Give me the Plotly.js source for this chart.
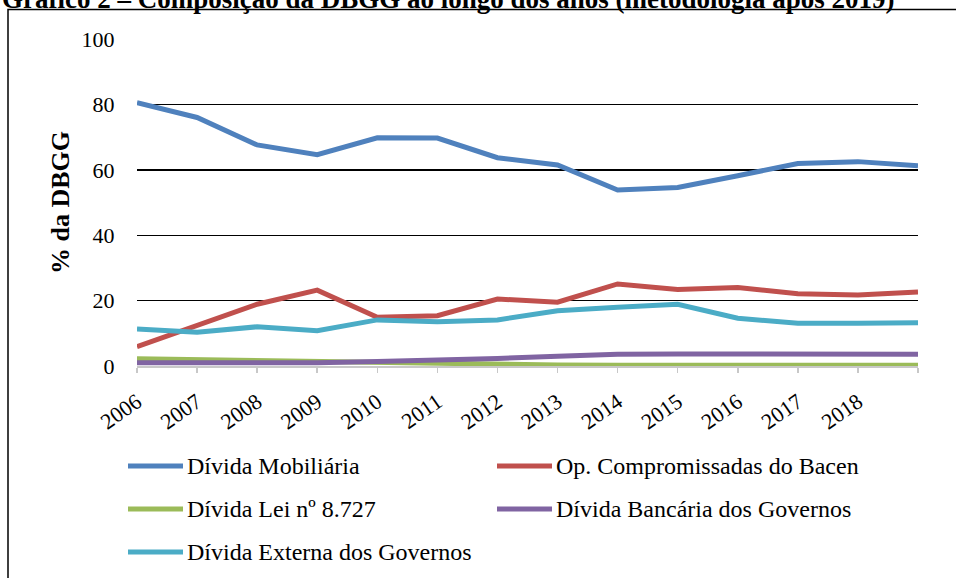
<!DOCTYPE html>
<html><head><meta charset="utf-8">
<script src="https://cdn.plot.ly/plotly-3.0.1.min.js"></script>
<style>html,body{margin:0;padding:0;background:#fff}#chart{width:956px;height:578px}</style>
</head><body><div id="chart"></div><script>
const years = ['2006','2007','2008','2009','2010','2011','2012','2013','2014','2015','2016','2017','2018','2019'];
const tickLabels = ['2006','2007','2008','2009','2010','2011','2012','2013','2014','2015','2016','2017','2018',''];
const mobiliaria = [80.5,76.0,67.6,64.6,69.8,69.7,63.7,61.5,53.8,54.6,58.2,61.9,62.5,61.2];
const compromissadas = [5.9,12.3,18.9,23.2,14.9,15.4,20.5,19.5,25.1,23.4,24.0,22.1,21.7,22.6];
const lei8727 = [2.2,1.9,1.6,1.3,1.0,0.8,0.5,0.3,0.2,0.2,0.2,0.2,0.2,0.2];
const bancaria = [1.0,1.0,1.0,1.0,1.4,1.7,2.3,3.0,3.6,3.7,3.7,3.6,3.7,3.6];
const externa = [11.3,10.3,12.0,10.8,14.1,13.5,14.1,16.9,18.0,18.9,14.6,13.1,13.1,13.2];
const seriesNames = ['Dívida Mobiliária','Op. Compromissadas do Bacen','Dívida Lei nº 8.727','Dívida Bancária dos Governos','Dívida Externa dos Governos'];
const seriesColors = ['#4F81BD','#C0504D','#9BBB59','#8064A2','#4BACC6'];
const seriesValues = [mobiliaria, compromissadas, lei8727, bancaria, externa];
const titleText = 'Gráfico 2 – Composição da DBGG ao longo dos anos (metodologia após 2019)';
const yTitle = '% da DBGG';

const FONT = 'Liberation Serif, Times New Roman, serif';
const W = 956, H = 578, M = {l:137, r:38, t:39, b:212};
const pw = W - M.l - M.r, ph = H - M.t - M.b;
const px2x = p => (p - M.l) / pw;
const px2y = p => (H - M.b - p) / ph;

const traces = seriesValues.map((v,i)=>({
  type:'scatter', mode:'lines', x:years, y:v, name:seriesNames[i],
  line:{color:seriesColors[i], width:5}, showlegend:false
}));

// legend built from the series names/colours (two columns)
const legShapes = [], legAnn = [];
seriesNames.forEach((n,i)=>{
  const col = i % 2, row = Math.floor(i / 2);
  const x0 = 128 + col * 369, yy = 466 + row * 43;
  legShapes.push({type:'line', xref:'paper', yref:'paper', x0:px2x(x0), x1:px2x(x0+55),
    y0:px2y(yy), y1:px2y(yy), line:{color:seriesColors[i], width:5}});
  legAnn.push({xref:'paper', yref:'paper', x:px2x(x0+57), y:px2y(yy), xanchor:'left', yanchor:'middle',
    text:n, showarrow:false, font:{family:FONT, size:24, color:'#000'}});
});

const layout = {
  width:W, height:H, margin:M,
  paper_bgcolor:'#fff', plot_bgcolor:'#fff',
  font:{family:FONT, color:'#000', size:22},
  showlegend:false,
  xaxis:{
    type:'category', range:[0,13], tickvals:years, ticktext:tickLabels,
    tickangle:-35, tickfont:{family:FONT, size:22, color:'#000'},
    showline:true, linecolor:'#c8c8c8', linewidth:1.5,
    ticks:'outside', ticklen:5, tickcolor:'#c8c8c8', tickwidth:1.5,
    ticklabelstandoff:8,
    showgrid:false, zeroline:false
  },
  yaxis:{
    range:[0,100], dtick:20, tick0:0,
    showgrid:true, gridcolor:'#000', gridwidth:1.4,
    zeroline:false, showline:false,
    ticks:'outside', ticklen:17, tickcolor:'rgba(0,0,0,0)',
    tickfont:{family:FONT, size:22, color:'#000'},
    title:{text:yTitle, font:{family:FONT, size:26, color:'#000', weight:'bold'}, standoff:4}
  },
  annotations:[{
    xref:'paper', yref:'paper', x:px2x(0), y:px2y(-1), xanchor:'left', yanchor:'middle',
    text:'<b>'+titleText+'</b>', showarrow:false, font:{family:FONT, size:27, color:'#000'}
  }].concat(legAnn),
  shapes:[{
    type:'rect', xref:'paper', yref:'paper', x0:px2x(8), x1:1.2, y0:-1, y1:px2y(9.5),
    line:{color:'#000', width:1.5}, layer:'below'
  }].concat(legShapes)
};
Plotly.newPlot('chart', traces, layout, {displayModeBar:false, staticPlot:true});
</script></body></html>
